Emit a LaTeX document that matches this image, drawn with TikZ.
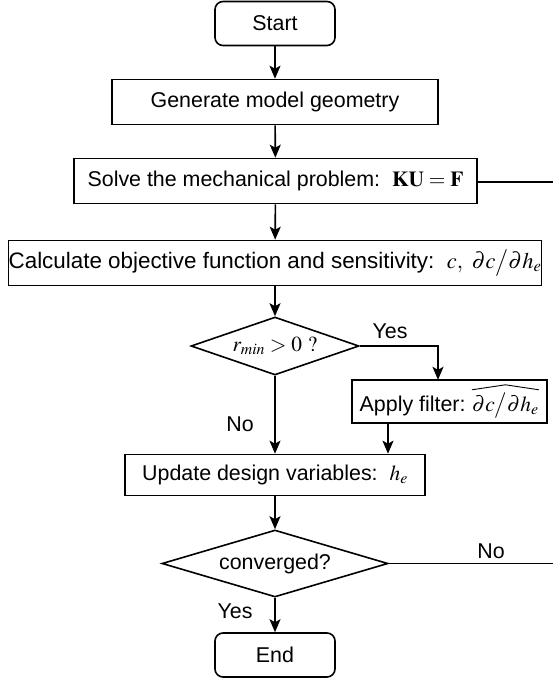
\documentclass[tikz,border=0pt]{standalone}
\usepackage{mathptmx}
\usepackage[no-math]{fontspec}
\setmainfont{Liberation Sans}
\usetikzlibrary{shapes.geometric,arrows.meta}
% wide hat over the filtered sensitivity
\newcommand{\filthat}[1]{\tikz[baseline=(hatarg.base)]{\node[draw=none, rectangle, inner sep=0pt, minimum size=0pt] (hatarg) {$#1$};
  \draw[line width=0.9pt] ([yshift=3pt]hatarg.north west) -- ([yshift=8pt]hatarg.north) -- ([yshift=3pt]hatarg.north east);}}
\begin{document}
\begin{tikzpicture}[x=1pt, y=-1pt, line width=1.6pt,
  >={Stealth[length=13pt,width=11pt,inset=3pt]},
  font=\fontsize{21.4}{25}\selectfont,
  stepbox/.style={draw, rectangle, inner sep=0pt, minimum height=45pt},
  termbox/.style={draw, rectangle, rounded corners=8pt, inner sep=0pt, minimum width=120pt, minimum height=44pt},
  testbox/.style={draw, diamond, inner sep=0pt}]
\useasboundingbox (0,0) rectangle (553,678);
\node (start) [termbox] at (275,23.5) {Start};
\node (gen) [stepbox, minimum width=326pt] at (275,102) {Generate model geometry};
\node (solve) [stepbox, minimum width=403pt] at (275.5,181) {Solve the mechanical problem:\ \ $\mathbf{KU}=\mathbf{F}$};
\node (calc) [stepbox, minimum width=530pt, font=\fontsize{22.4}{26}\selectfont] at (275,263) {Calculate objective function and sensitivity:\ \ $c,\ \partial c\big/\partial h_e$};
\node (rmin) [testbox, aspect=2.9, minimum width=168pt, minimum height=58pt] at (275,346) {$r_{min}>0\ ?$};
\node (filt) [stepbox, minimum width=195pt, minimum height=43pt] at (449.5,401.5) {Apply filter:\ \filthat{\partial c\big/\partial h_e}};
\node (upd) [stepbox, minimum width=300pt, minimum height=41pt] at (275,475) {Update design variables:\ \ $h_e$};
\node (conv) [testbox, aspect=3.4, minimum width=226pt, minimum height=67pt] at (275,563.5) {converged?};
\node (stop) [termbox] at (275,655) {End};
\coordinate (solveout) at (553,182);
\coordinate (convout) at (553,563.5);
\coordinate (yesturn) at (438,346);
\coordinate (filtout) at (388,423);
\node (yesa) at (390,331) {Yes};
\node (noa) at (240,424) {No};
\node (nob) at (491,551) {No};
\node (yesb) at (235,611) {Yes};
\draw [->] (start) -- (gen);
\draw [->] (gen) -- (solve);
\draw [->] (solve) -- (calc);
\draw [->] (calc) -- (rmin);
\draw [->] (rmin.east) -- (yesturn) -- (yesturn |- filt.north);
\draw [->] (rmin) -- (upd);
\draw [->] (filtout) -- (filtout |- upd.north);
\draw [->] (upd) -- (conv);
\draw [->] (conv) -- (stop);
\draw (solve.east |- solveout) -- (solveout);
\draw (conv.east) -- (convout);
\end{tikzpicture}
\end{document}
